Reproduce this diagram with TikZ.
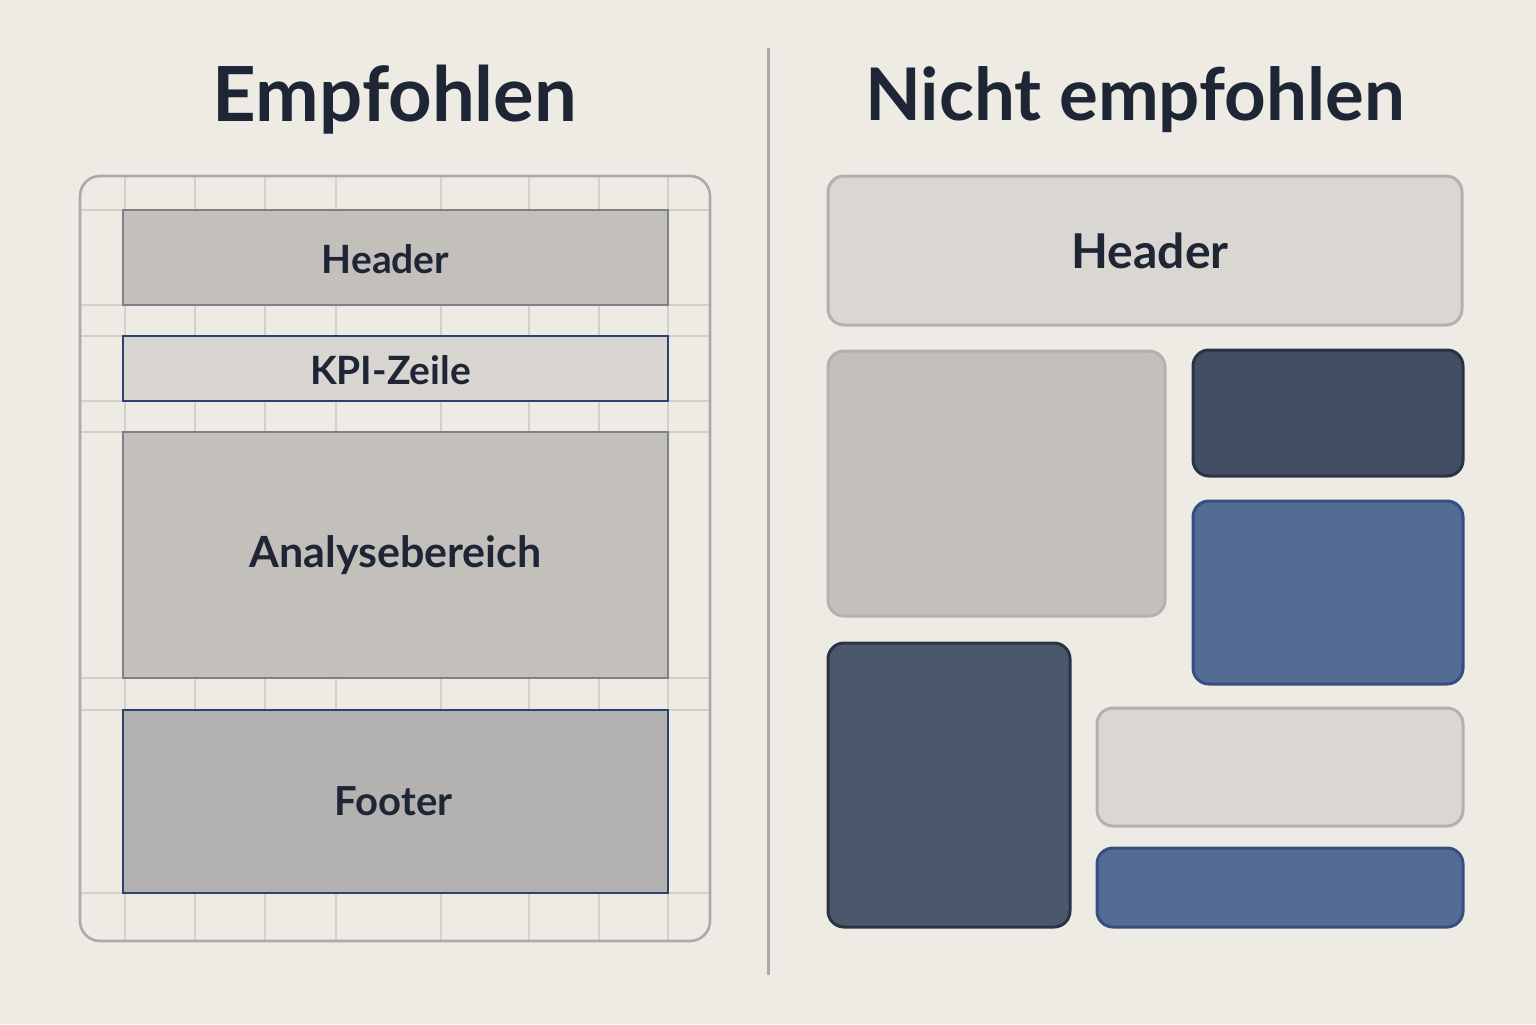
\documentclass[tikz,border=0pt]{standalone}
\usepackage{fontspec}
\setmainfont{Lato}
\usetikzlibrary{fit}

\definecolor{bgc}{HTML}{EEEBE5}
\definecolor{gridc}{HTML}{D3D0CB}
\definecolor{framec}{HTML}{AAAAAA}
\definecolor{divc}{HTML}{ABABAB}
\definecolor{boxgray}{HTML}{C3C0BC}
\definecolor{linegray}{HTML}{7D828A}
\definecolor{kpifill}{HTML}{D9D6D2}
\definecolor{navyline}{HTML}{2C4371}
\definecolor{footfill}{HTML}{B3B2B0}
\definecolor{lightfill}{HTML}{DAD6D1}
\definecolor{lightline}{HTML}{B2B1B0}
\definecolor{darkfill}{HTML}{434E62}
\definecolor{darkline}{HTML}{2A3345}
\definecolor{slatefill}{HTML}{4B586B}
\definecolor{bluefill}{HTML}{536C94}
\definecolor{blueline}{HTML}{344F80}
\definecolor{ink}{HTML}{1E2535}

\tikzset{
  gridline/.style={draw=gridc, line width=1.1pt},
  block/.style={rectangle, inner sep=0pt, line width=1.4pt},
  tile/.style={rectangle, rounded corners=8pt, inner sep=0pt, line width=1.5pt},
  title/.style={font=\fontsize{38}{42}\selectfont\bfseries, text=ink, inner sep=0pt},
  label/.style={font=\fontsize{19.5}{22}\selectfont\bfseries, text=ink, inner sep=0pt},
}

\begin{document}
\begin{tikzpicture}[x=0.5pt, y=-0.5pt]
  % canvas
  \fill[bgc] (0,0) rectangle (1536,1024);
  \useasboundingbox (0,0) rectangle (1536,1024);

  % divider between the two halves
  \coordinate (divtop) at (768,48);
  \coordinate (divbot) at (768,975);
  \draw[divc, line width=1.5pt] (divtop) -- (divbot);

  % headings
  \node[title] (tl) at (395,100) {Empfohlen};
  \node[title, font=\fontsize{36.3}{42}\selectfont\bfseries] (tr) at (1135,100) {Nicht empfohlen};

  % ---- recommended layout: grid-aligned blocks ----
  \foreach \gx in {125,195,265,336,441,529,599,668}
    \draw[gridline] (\gx,176) -- (\gx,941);
  \foreach \gy in {210,305,336,401,432,678,710,893}
    \draw[gridline] (80,\gy) -- (710,\gy);
  \draw[framec, line width=1.3pt, rounded corners=10pt] (80,176) rectangle (710,941);

  \node[block, fill=boxgray, draw=linegray, fit={(123,210) (668,305)}] (hdr) {};
  \node[label] at ([xshift=-5pt,yshift=-1pt]hdr.center) {Header};

  \node[block, fill=kpifill, draw=navyline, fit={(123,336) (668,401)}] (kpi) {};
  \node[label] at ([xshift=-2.5pt,yshift=-1pt]kpi.center) {KPI-Zeile};

  \node[block, fill=boxgray, draw=linegray, fit={(123,432) (668,678)}] (ana) {};
  \node[label, font=\fontsize{21.5}{24}\selectfont\bfseries] at (ana.center) {Analysebereich};

  \node[block, fill=footfill, draw=navyline, fit={(123,710) (668,893)}] (ftr) {};
  \node[label, font=\fontsize{20}{24}\selectfont\bfseries] at ([xshift=-1pt]ftr.center) {Footer};

  % ---- not recommended layout: scattered tiles ----
  \node[tile, fill=lightfill, draw=lightline, fit={(828,176) (1462,325)}] (rhdr) {};
  \node[label, font=\fontsize{24}{28}\selectfont\bfseries] at ([xshift=2.5pt]rhdr.center) {Header};

  \node[tile, fill=boxgray, draw=lightline, fit={(828,351) (1165,616)}] (t1) {};
  \node[tile, fill=darkfill, draw=darkline, fit={(1193,350) (1463,476)}] (t2) {};
  \node[tile, fill=bluefill, draw=blueline, fit={(1193,501) (1463,684)}] (t3) {};
  \node[tile, fill=slatefill, draw=darkline, fit={(828,643) (1070,927)}] (t4) {};
  \node[tile, fill=lightfill, draw=lightline, fit={(1097,708) (1463,826)}] (t5) {};
  \node[tile, fill=bluefill, draw=blueline, fit={(1097,848) (1463,927)}] (t6) {};
\end{tikzpicture}
\end{document}
